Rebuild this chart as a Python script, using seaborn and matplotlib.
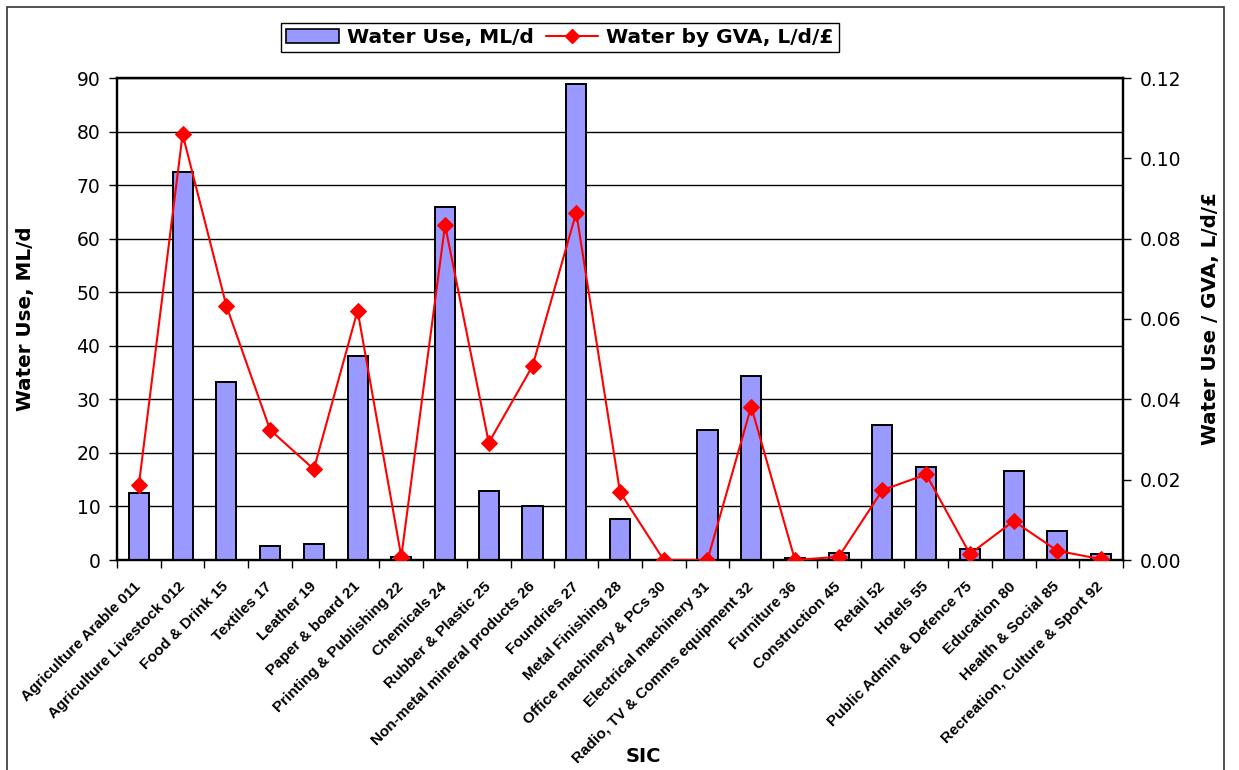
import numpy as np
import pandas as pd
import matplotlib
matplotlib.use("Agg")
import matplotlib.pyplot as plt
import matplotlib.transforms as mtransforms
from matplotlib.patches import Rectangle
from matplotlib.lines import Line2D
from matplotlib.ticker import FixedLocator
import seaborn as sns

# Industry sectors (SIC codes)
categories = [
    "Agriculture Arable 011", "Agriculture Livestock 012", "Food & Drink 15",
    "Textiles 17", "Leather 19", "Paper & board 21", "Printing & Publishing 22",
    "Chemicals 24", "Rubber & Plastic 25", "Non-metal mineral products 26",
    "Foundries 27", "Metal Finishing 28", "Office machinery & PCs 30",
    "Electrical machinery 31", "Radio, TV & Comms equipment 32", "Furniture 36",
    "Construction 45", "Retail 52", "Hotels 55", "Public Admin & Defence 75",
    "Education 80", "Health & Social 85", "Recreation, Culture & Sport 92",
]

# Water use, ML/d
water_use = [12.6, 72.4, 33.2, 2.6, 3.0, 38.0, 0.6, 65.9, 12.9, 10.1,
             88.9, 7.65, 0.0, 24.3, 34.4, 0.4, 1.4, 25.3, 17.4, 2.05,
             16.6, 5.4, 1.05]

# Water use per unit of GVA, L/d/£
water_by_gva = [0.0187, 0.106, 0.0633, 0.0324, 0.0226, 0.0621, 0.0008,
                0.0834, 0.0292, 0.0483, 0.0865, 0.0169, 0.0, 0.0, 0.0382,
                0.0, 0.0008, 0.0174, 0.0213, 0.0015, 0.0097, 0.0023, 0.0002]

left_ticks = list(range(0, 91, 10))
right_ticks = [0.00, 0.02, 0.04, 0.06, 0.08, 0.10, 0.12]

df = pd.DataFrame({"SIC": categories, "use": water_use,
                   "gva": water_by_gva, "pos": np.arange(len(categories))})

sns.set_theme(style="white")
plt.rcParams["font.family"] = ["DejaVu Sans"]
plt.rcParams["text.color"] = "black"
plt.rcParams["axes.labelcolor"] = "black"
plt.rcParams["xtick.color"] = "black"
plt.rcParams["ytick.color"] = "black"

W, H = 1239, 770
fig = plt.figure(figsize=(W / 100, H / 100), dpi=100)
fig.patch.set_facecolor("white")

# outer chart frame
fig.add_artist(Rectangle((7 / W, -0.05), (1224 - 7) / W, 1 - 7 / H + 0.05,
                         transform=fig.transFigure, fill=False,
                         edgecolor="#333333", linewidth=1.2))

x0, x1, y0, y1 = 117, 1123, 78, 560
ax = fig.add_axes([x0 / W, 1 - y1 / H, (x1 - x0) / W, (y1 - y0) / H])

bar_color = "#9999FF"
sns.barplot(data=df, x="SIC", y="use", color=bar_color, width=0.46,
            edgecolor="black", linewidth=1.4, saturation=1, ax=ax, zorder=3)

n = len(categories)
ax.set_xlim(-0.5, n - 0.5)
ax.set_ylim(0, 90)
ax.yaxis.set_major_locator(FixedLocator(left_ticks))
ax.set_yticklabels([str(t) for t in left_ticks], fontsize=13.5)
ax.grid(axis="y", color="black", linewidth=1.0, zorder=0)
ax.set_axisbelow(True)

# category tick marks sit on boundaries between bars
ax.xaxis.set_minor_locator(FixedLocator(np.arange(-0.5, n, 1.0)))
ax.tick_params(axis="x", which="major", length=0, pad=14)
ax.tick_params(axis="x", which="minor", length=6, width=1, color="black",
               direction="out", bottom=True)
ax.tick_params(axis="y", which="major", length=6, width=1, color="black",
               direction="out", left=True, pad=6)
ax.set_xticks(np.arange(n))
ax.set_xticklabels(categories, rotation=45, ha="right",
                   rotation_mode="anchor", fontsize=11, fontweight="bold",
                   family="Liberation Sans")
shift = mtransforms.ScaledTranslation(-5 / 100, 0, fig.dpi_scale_trans)
for lbl in ax.get_xticklabels():
    lbl.set_transform(lbl.get_transform() + shift)
ax.set_xlabel("")
ax.set_ylabel("Water Use, ML/d", fontsize=14.3, fontweight="bold",
              labelpad=30)

for sp in ax.spines.values():
    sp.set_color("black")
    sp.set_linewidth(1.6)

ax2 = ax.twinx()
sns.lineplot(data=df, x="pos", y="gva", color="red", linewidth=1.5,
             marker="D", markersize=8, markeredgecolor="red", ax=ax2,
             zorder=5)
ax2.set_ylim(0, 0.12)
ax2.yaxis.set_major_locator(FixedLocator(right_ticks))
ax2.set_yticklabels([f"{t:.2f}" for t in right_ticks], fontsize=13.5)
ax2.tick_params(axis="y", which="major", length=6, width=1, color="black",
                direction="out", right=True, pad=6)
ax2.set_ylabel("Water Use / GVA, L/d/£", fontsize=14.3, fontweight="bold",
               labelpad=14)
ax2.set_xlabel("")
ax2.grid(False)
for sp in ax2.spines.values():
    sp.set_color("black")
    sp.set_linewidth(1.6)
ax2.set_xlim(-0.5, n - 0.5)

fig.text(643 / W, 1 - 757 / H, "SIC", ha="center", va="center",
         fontsize=14, fontweight="bold")

handles = [Rectangle((0, 0), 1, 1, facecolor=bar_color, edgecolor="black",
                     linewidth=1.2),
           Line2D([0], [0], color="red", linewidth=1.5, marker="D",
                  markersize=7, markeredgecolor="red")]
leg = fig.legend(handles, ["Water Use, ML/d", "Water by GVA, L/d/£"],
                 loc="upper center", bbox_to_anchor=(560 / W, 1 - 13 / H),
                 ncol=2, frameon=True, fancybox=False, framealpha=1,
                 edgecolor="black", prop={"weight": "bold", "size": 14.5},
                 handlelength=2.6, handletextpad=0.4, columnspacing=0.6,
                 borderpad=0.25)
leg.get_frame().set_linewidth(1.0)
if ax2.get_legend() is not None:
    ax2.get_legend().remove()

fig.savefig("out.png", dpi=100)
